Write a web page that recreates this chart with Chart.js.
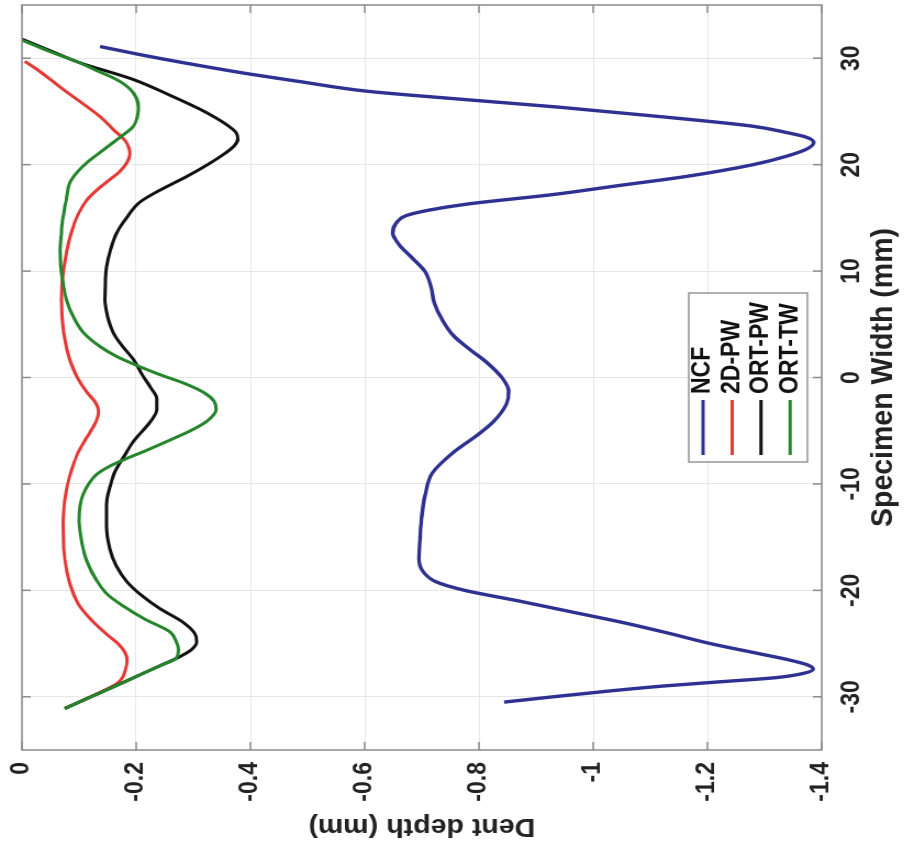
<!DOCTYPE html>
<html>
<head>
<meta charset="utf-8">
<title>Dent depth</title>
<script src="https://cdn.jsdelivr.net/npm/chart.js@4.4.1/dist/chart.umd.min.js"></script>
<style>
  html, body { margin: 0; padding: 0; background: #fff; }
  #wrap { position: relative; width: 914px; height: 852px; overflow: hidden; }
  /* the figure is shown turned a quarter turn, and a little stretched */
  #turn { position: absolute; left: 31px; top: 10px; width: 852px; height: 832px;
          transform: rotate(-90deg) scale(1, 1.0986); }
</style>
</head>
<body>
<div id="wrap"><div id="turn"><canvas id="myChart" width="852" height="832"></canvas></div></div>
<script>
const seriesNames = ["NCF", "2D-PW", "ORT-PW", "ORT-TW"];
const seriesColors = ["#2f3192", "#e53935", "#111111", "#24852b"];

const widthTicks = [-30, -20, -10, 0, 10, 20, 30];
const depthTicks = [0, -0.2, -0.4, -0.6, -0.8, -1, -1.2, -1.4];

// specimen width (mm) and dent depth (mm)
const ncfWidth = [-30.5, -30.0, -29.5, -29.0, -28.6, -28.2, -27.8, -27.4, -27.0, -26.5, -26.0, -25.0, -24.0, -23.0, -22.0, -21.0, -20.0, -19.2, -18.3, -17.0, -15.0, -13.0, -11.0, -9.0, -7.0, -5.5, -4.0, -2.5, -1.3, 0.0, 1.4, 2.6, 3.9, 5.5, 7.0, 8.5, 10.0, 11.4, 12.5, 13.6, 14.5, 15.2, 15.7, 16.3, 17.2, 18.0, 18.9, 20.0, 20.8, 21.5, 22.1, 22.6, 23.0, 23.6, 24.5, 25.4, 26.2, 26.9, 27.8, 28.5, 29.3, 30.2, 31.1];
const ncfDepth = [-0.844, -0.93, -1.02, -1.12, -1.22, -1.32, -1.368, -1.385, -1.375, -1.34, -1.295, -1.205, -1.13, -1.05, -0.96, -0.87, -0.775, -0.725, -0.703, -0.695, -0.697, -0.700, -0.706, -0.718, -0.756, -0.795, -0.828, -0.848, -0.852, -0.84, -0.814, -0.785, -0.756, -0.735, -0.722, -0.716, -0.705, -0.68, -0.66, -0.649, -0.655, -0.672, -0.71, -0.78, -0.931, -1.04, -1.164, -1.28, -1.339, -1.375, -1.386, -1.372, -1.34, -1.281, -1.12, -0.94, -0.756, -0.604, -0.487, -0.40, -0.312, -0.22, -0.137];

const pw2dWidth = [-31.1, -30.2, -29.5, -28.8, -28.2, -27.5, -26.6, -25.8, -25.0, -24.2, -22.8, -21.4, -20.0, -18.3, -16.0, -13.5, -11.5, -10.0, -8.5, -7.2, -5.5, -4.1, -3.2, -2.3, -1.4, 0.0, 1.2, 2.6, 4.2, 5.7, 7.3, 8.9, 10.5, 12.0, 13.2, 14.2, 15.5, 16.7, 17.7, 18.6, 19.4, 20.2, 21.0, 21.6, 22.3, 23.3, 24.5, 25.8, 26.8, 28.0, 29.0, 29.7];
const pw2dDepth = [-0.075, -0.112, -0.14, -0.165, -0.176, -0.181, -0.184, -0.18, -0.168, -0.15, -0.122, -0.10, -0.088, -0.079, -0.073, -0.072, -0.075, -0.08, -0.088, -0.097, -0.115, -0.13, -0.134, -0.128, -0.114, -0.097, -0.087, -0.079, -0.073, -0.07, -0.069, -0.07, -0.074, -0.079, -0.084, -0.09, -0.1, -0.114, -0.133, -0.154, -0.172, -0.184, -0.189, -0.187, -0.18, -0.16, -0.137, -0.105, -0.079, -0.05, -0.025, -0.005];

const ortPwWidth = [-31.1, -30.0, -29.0, -28.0, -27.0, -26.4, -25.6, -24.8, -24.0, -23.0, -21.7, -20.5, -19.2, -17.7, -16.1, -14.0, -11.9, -10.3, -8.8, -7.3, -6.0, -4.9, -4.0, -3.0, -2.0, -1.0, 0.3, 1.7, 3.0, 4.2, 5.7, 7.3, 9.0, 10.4, 12.0, 13.6, 15.0, 16.5, 17.7, 18.9, 20.0, 21.2, 21.8, 22.4, 23.0, 23.8, 24.5, 25.2, 26.5, 28.0, 29.6, 30.7, 31.8];
const ortPwDepth = [-0.075, -0.121, -0.163, -0.204, -0.245, -0.27, -0.296, -0.306, -0.302, -0.282, -0.241, -0.21, -0.184, -0.165, -0.154, -0.148, -0.148, -0.154, -0.163, -0.18, -0.195, -0.213, -0.227, -0.236, -0.236, -0.226, -0.21, -0.195, -0.175, -0.16, -0.15, -0.145, -0.146, -0.148, -0.155, -0.166, -0.183, -0.207, -0.245, -0.289, -0.325, -0.359, -0.372, -0.378, -0.375, -0.357, -0.336, -0.312, -0.26, -0.195, -0.1, -0.05, 0];

const ortTwWidth = [-31.1, -30.0, -29.0, -28.0, -27.0, -26.4, -25.6, -24.8, -23.9, -22.7, -21.5, -20.4, -19.0, -17.3, -15.5, -13.5, -12.0, -11.0, -10.0, -9.1, -8.3, -7.6, -6.8, -6.0, -5.0, -4.1, -3.0, -2.2, -1.4, -0.5, 0.2, 1.0, 2.0, 2.9, 4.2, 5.7, 7.3, 8.9, 10.5, 12.0, 13.5, 15.1, 16.8, 18.3, 19.3, 20.2, 21.2, 22.1, 22.9, 23.6, 24.5, 25.3, 26.3, 27.1, 27.7, 28.3, 28.9, 29.6, 30.6, 31.7];
const ortTwDepth = [-0.075, -0.121, -0.163, -0.204, -0.245, -0.27, -0.274, -0.27, -0.259, -0.215, -0.178, -0.15, -0.13, -0.114, -0.105, -0.10, -0.102, -0.107, -0.117, -0.131, -0.155, -0.184, -0.22, -0.254, -0.295, -0.324, -0.34, -0.336, -0.318, -0.282, -0.245, -0.207, -0.165, -0.137, -0.108, -0.09, -0.078, -0.072, -0.068, -0.067, -0.069, -0.072, -0.078, -0.084, -0.097, -0.114, -0.138, -0.16, -0.18, -0.195, -0.202, -0.204, -0.2, -0.189, -0.175, -0.154, -0.128, -0.1, -0.05, 0];

const seriesWidths = [ncfWidth, pw2dWidth, ortPwWidth, ortTwWidth];
const seriesDepths = [ncfDepth, pw2dDepth, ortPwDepth, ortTwDepth];

Chart.defaults.font.family = '"Liberation Sans", Arial, sans-serif';
Chart.defaults.color = "#222";

// box round the axes with short inward ticks, like the original plot
const frameBox = {
    id: "frameBox",
    afterDatasetsDraw(chart) {
        const { ctx, chartArea: a, scales } = chart;
        ctx.save();
        ctx.strokeStyle = "#8a8a8a";
        ctx.lineWidth = 1.5;
        ctx.strokeRect(a.left, a.top, a.right - a.left, a.bottom - a.top);
        ctx.beginPath();
        widthTicks.forEach(v => {
            const px = scales.x.getPixelForValue(v);
            ctx.moveTo(px, a.bottom); ctx.lineTo(px, a.bottom - 8);
            ctx.moveTo(px, a.top); ctx.lineTo(px, a.top + 8);
        });
        depthTicks.forEach(v => {
            const py = scales.y.getPixelForValue(v);
            ctx.moveTo(a.left, py); ctx.lineTo(a.left + 8, py);
            ctx.moveTo(a.right, py); ctx.lineTo(a.right - 8, py);
        });
        ctx.stroke();
        ctx.restore();
    }
};

const legendBox = {
    id: "legendBox",
    afterDraw(chart) {
        const { ctx, chartArea } = chart;
        const left = chartArea.left + 288;
        const top = chartArea.bottom - 121;
        ctx.save();
        ctx.fillStyle = "#fff";
        ctx.fillRect(left, top, 169, 108);
        ctx.strokeStyle = "#7a7a7a";
        ctx.lineWidth = 1.2;
        ctx.strokeRect(left, top, 169, 108);
        ctx.font = 'bold 23px "Liberation Sans", Arial, sans-serif';
        ctx.textBaseline = "middle";
        seriesNames.forEach((name, i) => {
            const y = top + 13 + i * 26.4;
            ctx.strokeStyle = seriesColors[i];
            ctx.lineWidth = 3;
            ctx.beginPath();
            ctx.moveTo(left + 7, y);
            ctx.lineTo(left + 62, y);
            ctx.stroke();
            ctx.fillStyle = "#111";
            ctx.fillText(name, left + 68, y);
        });
        ctx.restore();
    }
};

const datasets = seriesNames.map((name, i) => ({
    label: name,
    data: seriesWidths[i].map((w, k) => ({ x: w, y: seriesDepths[i][k] })),
    borderColor: seriesColors[i],
    backgroundColor: seriesColors[i],
    borderWidth: i === 0 ? 3.4 : 3,
    showLine: true,
    pointRadius: 0,
    cubicInterpolationMode: "monotone",
    order: 3 - i,
}));

const ctx = document.getElementById("myChart").getContext("2d");
new Chart(ctx, {
    type: "scatter",
    data: { datasets: datasets },
    options: {
        responsive: false,
        animation: false,
        layout: { padding: { top: 20, right: 5, left: 0, bottom: 0 } },
        plugins: {
            legend: { display: false },
            tooltip: { enabled: false },
        },
        scales: {
            x: {
                type: "linear",
                min: -35,
                max: 35,
                afterBuildTicks: s => { s.ticks = widthTicks.map(v => ({ value: v })); },
                afterFit: s => { s.height = 84; s.paddingLeft = 0; s.paddingRight = 0; },
                grid: { color: "#e6e6e6", drawTicks: false },
                border: { display: false },
                ticks: {
                    autoSkip: false,
                    maxRotation: 0,
                    padding: 14,
                    font: { size: 23, weight: "bold" },
                    callback: v => String(v),
                },
                title: {
                    display: true,
                    text: "Specimen Width (mm)",
                    font: { size: 28.5, weight: "bold" },
                    padding: { top: 0, bottom: 11 },
                },
            },
            y: {
                type: "linear",
                min: -1.4,
                max: 0,
                afterBuildTicks: s => { s.ticks = depthTicks.map(v => ({ value: v })); },
                afterFit: s => { s.width = 102; s.paddingTop = 0; s.paddingBottom = 0; },
                grid: { color: "#e6e6e6", drawTicks: false },
                border: { display: false },
                ticks: {
                    autoSkip: false,
                    padding: 12,
                    font: { size: 23, weight: "bold" },
                    callback: v => String(Math.round(v * 10) / 10),
                },
                title: {
                    display: true,
                    text: "Dent depth (mm)",
                    font: { size: 26, weight: "bold" },
                    padding: { top: 10, bottom: 0 },
                },
            },
        },
    },
    plugins: [frameBox, legendBox],
});
</script>
</body>
</html>
